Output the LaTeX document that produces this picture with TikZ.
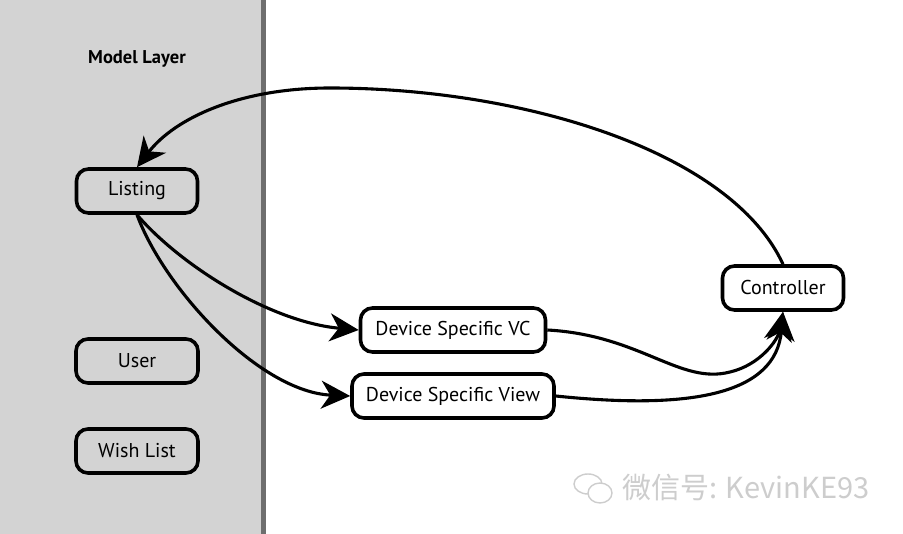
\documentclass[tikz,border=0pt]{standalone}
\usepackage{fontspec}
\setmainfont{PT Sans}
\newfontfamily\cjk{Noto Sans CJK SC}
\usetikzlibrary{arrows.meta}
\definecolor{layergray}{RGB}{211,211,211}
\definecolor{divider}{RGB}{110,110,110}
\definecolor{wmgray}{RGB}{205,205,205}
\begin{document}
\begin{tikzpicture}[x=1pt,y=-1pt,
  box/.style={draw=black,line width=3.6pt,rounded corners=12pt,minimum height=44pt,inner sep=0pt,font=\fontsize{20}{22}\selectfont},
  wbox/.style={box,fill=white},
  conn/.style={line width=3.1pt,-{Stealth[length=29pt,width=28pt,inset=9pt]}},
]
\useasboundingbox (0,0) rectangle (903,534);
\fill[white] (0,0) rectangle (903,534);
\fill[layergray] (0,0) rectangle (263,534);
\draw[divider,line width=4.5pt] (263.5,0) -- (263.5,534);
\node[font=\bfseries\fontsize{18.5}{20}\selectfont] (title) at (137,59) {Model Layer};
\node[box,minimum width=121pt] (listing) at (137,191) {Listing};
\node[box,minimum width=122pt] (user) at (137,361) {User};
\node[box,minimum width=122pt] (wish) at (137,451) {Wish List};
\node[wbox,minimum width=185pt] (vc) at (453,330) {Device Specific VC};
\node[wbox,minimum width=202pt] (view) at (453,396) {Device Specific View};
\node[wbox,minimum width=121pt] (ctrl) at (783,288) {Controller};
\coordinate (topbend) at (330,88);
\coordinate (dip) at (730,372);
\draw[conn] (ctrl.north) .. controls (730,150) and (520,88) .. (topbend) .. controls (240,88) and (175,118) .. (listing.north);
\draw[conn] (listing.south) .. controls (180,265) and (270,322) .. (vc.west);
\draw[conn] (listing.south) .. controls (165,290) and (260,392) .. (view.west);
\draw[conn] (vc.east) .. controls (640,335) and (680,385) .. (dip) .. controls (760,365) and (778,340) .. (ctrl.south);
\draw[conn] (view.east) .. controls (690,410) and (776,395) .. (ctrl.south);
% watermark
\draw[wmgray,line width=1.4pt] (588,484) ellipse [x radius=14pt,y radius=10pt];
\fill[white] (600,493) ellipse [x radius=12pt,y radius=10pt];
\draw[wmgray,line width=1.4pt] (600,493) ellipse [x radius=12pt,y radius=10pt];
\node[anchor=west,text=wmgray,font=\cjk\fontsize{29}{32}\selectfont,inner sep=0pt] (wm) at (622,488) {微信号: KevinKE93};
\end{tikzpicture}
\end{document}
